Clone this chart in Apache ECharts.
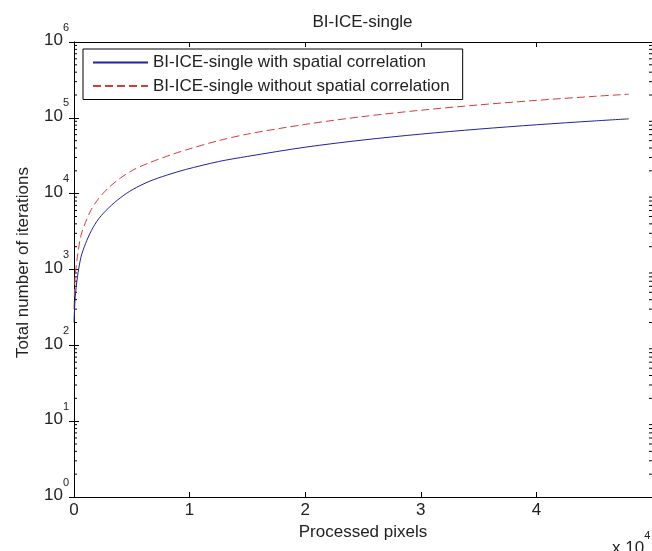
<!DOCTYPE html>
<html>
<head>
<meta charset="utf-8">
<script src="https://cdn.jsdelivr.net/npm/echarts@6/dist/echarts.min.js"></script>
<style>html,body{margin:0;padding:0;background:#fff;}#c{width:652px;height:551px;}</style>
</head>
<body>
<div id="c"></div>
<script>
// ---- data ----
var chartTitle = 'BI-ICE-single';
var seriesNames = ['BI-ICE-single with spatial correlation', 'BI-ICE-single without spatial correlation'];
var xWith = [0, 100, 300, 600, 1000, 1500, 2150, 3000, 4000, 5100, 6500, 8000, 9650, 12500, 15000, 20000, 25000, 30000, 35000, 40000, 45000, 48000];
var yWith = [200, 420, 800, 1450, 2200, 3250, 4700, 6500, 8800, 11400, 14500, 17500, 20800, 26500, 31000, 41000, 51000, 61000, 71000, 81000, 91000, 97000];
var xWithout = [0, 100, 300, 600, 1000, 1500, 2150, 3000, 4000, 5100, 6500, 8500, 10000, 12500, 15000, 20000, 25000, 30000, 35000, 40000, 45000, 48000];
var yWithout = [300, 800, 1500, 2800, 4200, 6200, 8700, 12000, 16000, 20500, 25500, 33000, 39000, 50000, 61000, 82000, 104000, 126000, 148000, 170000, 192000, 205000];
var xTickLabels = ['0', '1', '2', '3', '4', '5'];
var yTickExponents = ['0', '1', '2', '3', '4', '5', '6'];
var minorMultipliers = [2, 3, 4, 5, 6, 7, 8, 9];
var minorDecades = [1, 10, 100, 1000, 10000, 100000];
var xLabel = 'Processed pixels';
var yLabel = 'Total number of iterations';

function zip(xs, ys) { return xs.map(function (x, i) { return [x, ys[i]]; }); }
var minorTickData = [];
minorDecades.forEach(function (d) { minorMultipliers.forEach(function (m) { minorTickData.push([0, m * d]); }); });

var FONT = 'Liberation Sans, Arial, sans-serif';
var TXT = '#222';
var FS = 17;
var chart = echarts.init(document.getElementById('c'), null, {renderer: 'canvas'});
var supRich = {
  b: {fontFamily: FONT, fontSize: FS, fontWeight: 'normal', color: TXT, lineHeight: 27, verticalAlign: 'bottom'},
  s: {fontFamily: FONT, fontSize: 11, fontWeight: 'normal', color: TXT, lineHeight: 11, verticalAlign: 'top'}
};
chart.setOption({
  animation: false,
  backgroundColor: '#fff',
  title: [
    {text: chartTitle, left: 357.5, top: 9, textAlign: 'center',
     textStyle: {fontFamily: FONT, fontSize: FS, fontWeight: 'normal', color: TXT}},
    {text: '{b|x 10}{s|4}', left: 612, top: 530, padding: 0,
     textStyle: {fontWeight: 'normal', rich: supRich}}
  ],
  legend: {
    data: seriesNames,
    orient: 'vertical',
    left: 83, top: 49,
    padding: [5, 13, 5, 9],
    itemGap: 6.5,
    itemWidth: 55,
    itemHeight: 14,
    backgroundColor: '#fff',
    borderColor: '#000',
    borderWidth: 1,
    borderRadius: 0,
    itemStyle: {opacity: 0},
    textStyle: {fontFamily: FONT, fontSize: FS, color: TXT}
  },
  grid: {left: 74, right: -2, top: 42, bottom: 54, containLabel: false},
  xAxis: [
    {type: 'value', min: 0, max: 50000, interval: 10000, position: 'bottom',
     name: xLabel, nameLocation: 'middle', nameGap: 27,
     nameTextStyle: {fontFamily: FONT, fontSize: FS, color: TXT},
     axisLine: {show: true, lineStyle: {color: '#000', width: 1}},
     axisTick: {show: true, inside: true, length: 5, lineStyle: {color: '#000'}},
     axisLabel: {fontFamily: FONT, fontSize: FS, color: TXT, margin: 5, showMaxLabel: false,
       formatter: function (v) { return xTickLabels[Math.round(v / 10000)]; }},
     splitLine: {show: false}},
    {type: 'value', min: 0, max: 50000, interval: 10000, position: 'top',
     axisLine: {show: true, lineStyle: {color: '#000', width: 1}},
     axisTick: {show: true, inside: true, length: 5, lineStyle: {color: '#000'}},
     axisLabel: {show: false}, splitLine: {show: false}}
  ],
  yAxis: [
    {type: 'log', logBase: 10, min: 1, max: 1000000, splitNumber: 6, position: 'left',
     name: yLabel, nameLocation: 'middle', nameGap: 42, nameRotate: 90,
     nameTextStyle: {fontFamily: FONT, fontSize: FS, color: TXT, padding: [0, 0, 0, 14]},
     axisLine: {show: true, lineStyle: {color: '#000', width: 1}},
     axisTick: {show: true, inside: true, length: 5, lineStyle: {color: '#000'}},
     axisLabel: {margin: 5, padding: [0, 0, 13, 0],
       formatter: function (v) { var e = Math.round(Math.log10(v)); return '{b|10}{s|' + yTickExponents[e] + '}'; },
       rich: supRich},
     splitLine: {show: false}},
    {type: 'log', logBase: 10, min: 1, max: 1000000, splitNumber: 6, position: 'right',
     axisLine: {show: true, lineStyle: {color: '#000', width: 1}},
     axisTick: {show: true, inside: true, length: 5, lineStyle: {color: '#000'}},
     axisLabel: {show: false}, splitLine: {show: false}}
  ],
  series: [
    {name: seriesNames[0], type: 'line', data: zip(xWith, yWith), showSymbol: false, symbol: 'none',
     smooth: 0.3, lineStyle: {color: '#22229a', width: 1}, itemStyle: {color: '#22229a'}, z: 3},
    {name: seriesNames[1], type: 'line', data: zip(xWithout, yWithout), showSymbol: false, symbol: 'none',
     smooth: 0.3, lineStyle: {color: '#d43c3c', width: 1, type: [8, 4]}, itemStyle: {color: '#d43c3c'}, z: 2},
    {type: 'custom', silent: true, data: minorTickData, z: 1,
     renderItem: function (params, api) {
       var p = api.coord([0, api.value(1)]);
       var cs = params.coordSys;
       var right = cs.x + cs.width;
       return {type: 'group', children: [
         {type: 'line', shape: {x1: cs.x, y1: p[1], x2: cs.x + 3, y2: p[1]}, style: {stroke: '#000', lineWidth: 1}},
         {type: 'line', shape: {x1: right - 3, y1: p[1], x2: right, y2: p[1]}, style: {stroke: '#000', lineWidth: 1}}
       ]};
     }}
  ]
});
</script>
</body>
</html>
